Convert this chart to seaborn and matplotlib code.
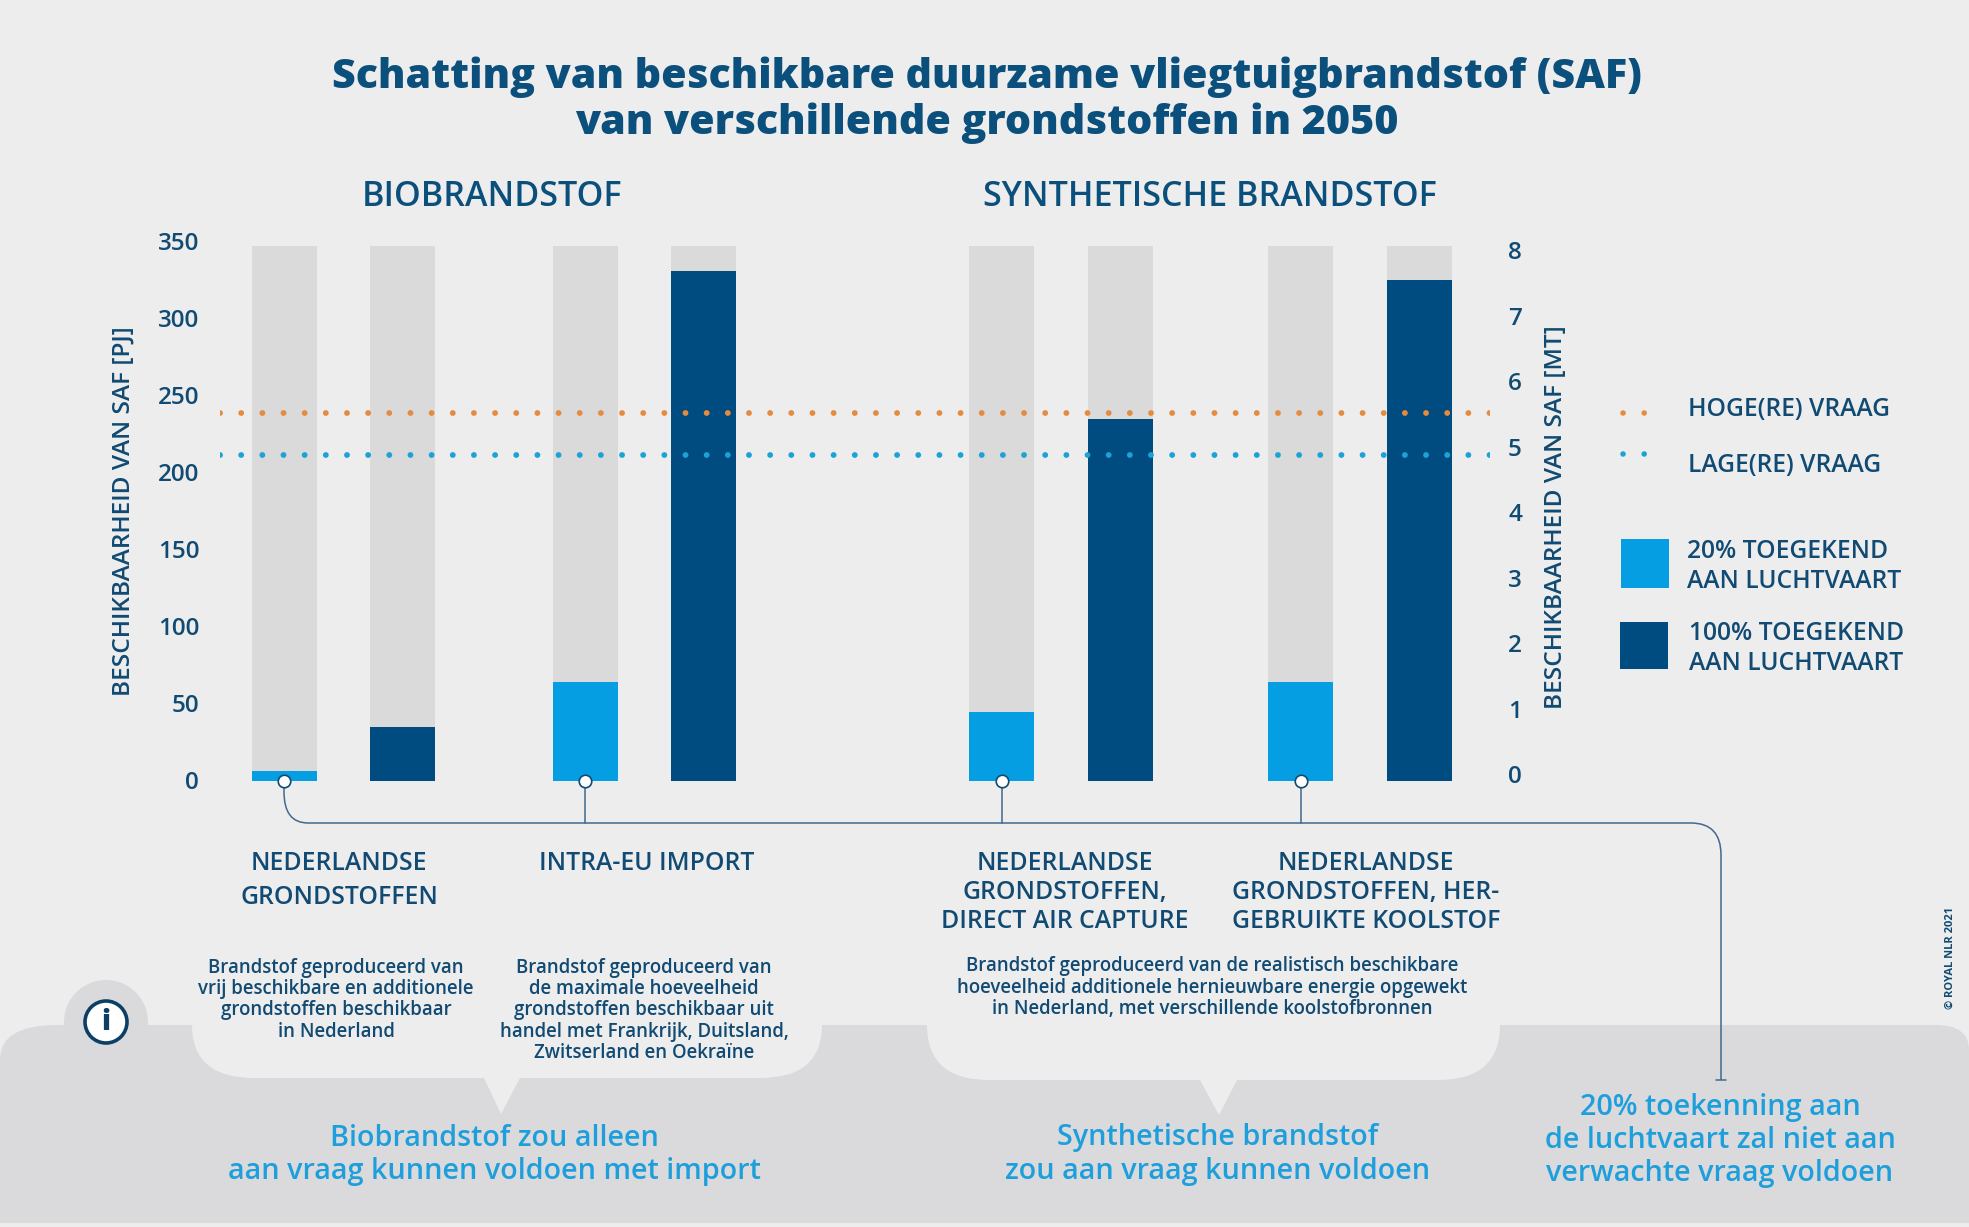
import matplotlib
matplotlib.use("Agg")
import matplotlib.pyplot as plt
from matplotlib.patches import PathPatch, Rectangle, Circle
from matplotlib.path import Path
from matplotlib.transforms import ScaledTranslation
import pandas as pd
import seaborn as sns

# ---- data -----------------------------------------------------------------
sources = ["NEDERLANDSE\nGRONDSTOFFEN", "INTRA-EU IMPORT",
           "NEDERLANDSE\nGRONDSTOFFEN,\nDIRECT AIR CAPTURE",
           "NEDERLANDSE\nGRONDSTOFFEN, HER-\nGEBRUIKTE KOOLSTOF"]
pj_20 = [6.5, 64, 45, 64]
pj_100 = [35, 331, 235, 325]
scale_max = 347.5
demand_high = 239
demand_low = 212
pj_ticks = [0, 50, 100, 150, 200, 250, 300, 350]
mt_ticks = [0, 1, 2, 3, 4, 5, 6, 7, 8]

# ---- style ----------------------------------------------------------------
BG, BAND, TRACK = "#EDEDEE", "#DADADC", "#DADADB"
LIGHT, DARK = "#069EE2", "#004B7F"
TEXT, ACC = "#114A72", "#1E9FDC"
ORANGE, DOTBLUE = "#E58B3E", "#1CA3D6"
LINE = "#41698C"
W, H = 1969, 1227
GROUP_X = [0, 2.54, 6.05, 8.575]      # bar-pair offsets along the x axis
X0, UNIT = 284, 118.6                 # pixel of x=0, pixels per x unit
AX_L, AX_R, AX_T, AX_B = 220, 1490, 242, 781
DOT_LW = 4.2
DOTS = (0, (0.01, 21.1 / (DOT_LW * 100 / 72)))

sns.set_theme(style="white")
plt.rcParams["font.family"] = ["Open Sans", "DejaVu Sans"]

fig = plt.figure(figsize=(W / 100, H / 100), dpi=100, facecolor=BG)
TICK_NUDGE = ScaledTranslation(0, -2.2 / 100, fig.dpi_scale_trans)


def overlay(z):
    a = fig.add_axes([0, 0, 1, 1], zorder=z)
    a.set_xlim(0, W)
    a.set_ylim(H, 0)
    a.axis("off")
    a.patch.set_alpha(0)
    return a


bg = overlay(0)
fg = overlay(5)

# bottom band and speech bubbles
bg.add_patch(PathPatch(Path(
    [(0, 1223), (0, 1060), (0, 1025), (57, 1025), (1936, 1025), (1969, 1025), (1969, 1050), (1969, 1223), (0, 1223)],
    [Path.MOVETO, Path.LINETO, Path.CURVE3, Path.CURVE3, Path.LINETO, Path.CURVE3, Path.CURVE3, Path.LINETO, Path.CLOSEPOLY]),
    fc=BAND, ec="none"))
bg.add_patch(Circle((106, 1022), 42, fc=BAND, ec="none"))


def bubble(l, r, b, tl, tr, tip, tipy):
    bg.add_patch(PathPatch(Path(
        [(l, 1020), (l, 1025), (l, b), (l + 62, b), (tl, b), (tip, tipy), (tr, b), (r - 62, b), (r, b), (r, 1025), (r, 1020), (l, 1020)],
        [Path.MOVETO, Path.LINETO, Path.CURVE3, Path.CURVE3, Path.LINETO, Path.LINETO, Path.LINETO, Path.LINETO,
         Path.CURVE3, Path.CURVE3, Path.LINETO, Path.CLOSEPOLY]),
        fc=BG, ec="none"))


bubble(192, 822, 1078, 484, 520, 501, 1114)
bubble(927, 1500, 1080, 1200, 1237, 1219, 1115)

# chart
ax = fig.add_axes([AX_L / W, 1 - AX_B / H, (AX_R - AX_L) / W, (AX_B - AX_T) / H], zorder=2)
ax.patch.set_alpha(0)
positions = [g + k for g in GROUP_X for k in (0, 1)]
values = [v for pair in zip(pj_20, pj_100) for v in pair]
alloc = ["20%", "100%"] * len(sources)
df = pd.DataFrame({"pos": positions, "pj": values, "alloc": alloc, "max": [scale_max] * len(values)})
bar_w = 65 / UNIT
sns.barplot(df, x="pos", y="max", color=TRACK, saturation=1, native_scale=True,
            width=bar_w, errorbar=None, linewidth=0, ax=ax)
sns.barplot(df, x="pos", y="pj", hue="alloc", hue_order=["20%", "100%"],
            palette={"20%": LIGHT, "100%": DARK}, saturation=1, native_scale=True,
            dodge=False, width=bar_w, errorbar=None, legend=False, linewidth=0, ax=ax)
ax.set_xlim((AX_L - X0) / UNIT, (AX_R - X0) / UNIT)
ax.set_ylim(0, (AX_B - AX_T) / 1.54)
ax.set_yticks(pj_ticks)
ax.set_xticks([])
ax.set_xlabel("")
ax.set_ylabel("BESCHIKBAARHEID VAN SAF [PJ]", color=TEXT, fontsize=17.6, fontweight=600)
ax.yaxis.set_label_coords(136, 511, transform=fg.transData)
ax.tick_params(axis="y", length=0, pad=15, labelsize=17.5, labelcolor=TEXT)
for t in ax.get_yticklabels():
    t.set_fontweight(600)
    t.set_va("center")
    t.set_transform(t.get_transform() + TICK_NUDGE)
sns.despine(ax=ax, left=True, bottom=True)
line_kw = dict(lw=DOT_LW, dash_capstyle="round", zorder=10)
ax.axhline(demand_high, color=ORANGE, ls=DOTS, **line_kw)
ax.axhline(demand_low, color=DOTBLUE, ls=DOTS, **line_kw)

ax2 = ax.twinx()
ax2.patch.set_alpha(0)
ax2.set_ylim((775 - AX_B) / 65.5, (775 - AX_T) / 65.5)
ax2.set_yticks(mt_ticks)
ax2.tick_params(axis="y", length=0, pad=13, labelsize=17.5, labelcolor=TEXT)
for t in ax2.get_yticklabels():
    t.set_fontweight(600)
    t.set_va("center")
    t.set_transform(t.get_transform() + TICK_NUDGE)
ax2.set_ylabel("BESCHIKBAARHEID VAN SAF [MT]", color=TEXT, fontsize=17.6, fontweight=600, rotation=90)
ax2.yaxis.set_label_coords(1544, 517, transform=fg.transData)
ax2.grid(False)
sns.despine(ax=ax2, left=True, right=True, bottom=True)

# connector
k = dict(color=LINE, lw=1.1, zorder=1)
fg.add_patch(PathPatch(Path(
    [(X0, 781), (X0, 792), (X0, 823), (308, 823), (1691, 823), (1721, 823), (1721, 855), (1721, 1080)],
    [Path.MOVETO, Path.LINETO, Path.CURVE3, Path.CURVE3, Path.LINETO, Path.CURVE3, Path.CURVE3, Path.LINETO]),
    fc="none", ec=LINE, lw=1.1))
fg.plot([1716, 1726], [1080, 1080], **k)
for i, g in enumerate(GROUP_X):
    px = X0 + UNIT * g
    if i:
        fg.plot([px, px], [781, 823], **k)
    fg.plot([px], [781], "o", ms=9, mfc="white", mec=TEXT, mew=1.2, zorder=3)


def txt(x, y, s, size, weight=600, color=TEXT, ha="center", **kw):
    fg.text(x, y, s, fontsize=size, fontweight=weight, color=color, ha=ha, va="center", **kw)


def lines(x, ys, rows, size, weight=600, color=TEXT, ha="center"):
    for y, r in zip(ys, rows):
        txt(x, y, r, size, weight, color, ha)


lines(987, [77, 123], ["Schatting van beschikbare duurzame vliegtuigbrandstof (SAF)",
                       "van verschillende grondstoffen in 2050"], 29.6, 800, "#0B4F7C")
txt(492, 197, "BIOBRANDSTOF", 24.5, 600, "#0B4F7C")
txt(1210, 197, "SYNTHETISCHE BRANDSTOF", 24.5, 600, "#0B4F7C")

for cx, ys, src in zip([339, 647, 1065, 1366],
                       [[864, 897], [864], [864, 893, 922], [864, 893, 922]], sources):
    lines(cx, ys, src.split("\n"), 17.8)

lines(336, [968, 989, 1010, 1032],
      ["Brandstof geproduceerd van", "vrij beschikbare en additionele", "grondstoffen beschikbaar", "in Nederland"], 13.4)
lines(644, [968, 989, 1010, 1032, 1053],
      ["Brandstof geproduceerd van", "de maximale hoeveelheid", "grondstoffen beschikbaar uit",
       "handel met Frankrijk, Duitsland,", "Zwitserland en Oekraïne"], 13.4)
lines(1212, [966, 988, 1009],
      ["Brandstof geproduceerd van de realistisch beschikbare",
       "hoeveelheid additionele hernieuwbare energie opgewekt",
       "in Nederland, met verschillende koolstofbronnen"], 13.4)

lines(494, [1138, 1172], ["Biobrandstof zou alleen", "aan vraag kunnen voldoen met import"], 20.7, 600, ACC)
lines(1218, [1138, 1172], ["Synthetische brandstof", "zou aan vraag kunnen voldoen"], 20.7, 600, ACC)
lines(1720, [1108, 1141, 1174], ["20% toekenning aan", "de luchtvaart zal niet aan", "verwachte vraag voldoen"], 20.7, 600, ACC)

# info icon
fg.add_patch(Circle((106, 1022), 21, fc="white", ec="#0D3F66", lw=2.6))
txt(106, 1022, "i", 20, 800, "#0D3F66")

# legend
leg_kw = dict(lw=4.0, dash_capstyle="round", ls=(0, (0.01, 21.1 / (4.0 * 100 / 72))))
fg.plot([1623, 1665], [413, 413], color=ORANGE, **leg_kw)
fg.plot([1623, 1665], [454, 454], color=DOTBLUE, **leg_kw)
txt(1688, 410, "HOGE(RE) VRAAG", 17.7, ha="left")
txt(1688, 465, "LAGE(RE) VRAAG", 17.7, ha="left")
fg.add_patch(Rectangle((1621, 539), 48, 49, fc=LIGHT, ec="none"))
fg.add_patch(Rectangle((1620, 622), 48, 47, fc=DARK, ec="none"))
lines(1687, [552, 581], ["20% TOEGEKEND", "AAN LUCHTVAART"], 17.7, ha="left")
lines(1689, [634, 663], ["100% TOEGEKEND", "AAN LUCHTVAART"], 17.7, ha="left")

txt(1950, 958, "© ROYAL NLR 2021", 8, 700, rotation=90)

fig.savefig("out.png", dpi=100, facecolor=BG)
